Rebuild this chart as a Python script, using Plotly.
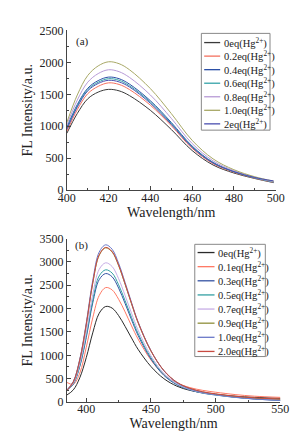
import plotly.graph_objects as go

# ---------------- Panel (a) data ----------------
wl_a = [400, 405, 410, 415, 420, 425, 430, 440, 450, 460, 470, 480, 490, 499]
a_00 = [890, 1200, 1430, 1535, 1578, 1555, 1480, 1250, 950, 620, 394, 268, 182, 118]
a_02 = [920, 1260, 1510, 1625, 1680, 1655, 1575, 1330, 1010, 655, 415, 280, 188, 122]
a_04 = [985, 1340, 1595, 1715, 1770, 1745, 1660, 1400, 1060, 690, 435, 290, 195, 128]
a_06 = [970, 1320, 1575, 1690, 1745, 1720, 1635, 1380, 1045, 680, 430, 288, 193, 126]
a_08 = [1020, 1410, 1690, 1825, 1885, 1855, 1765, 1490, 1125, 730, 460, 305, 200, 132]
a_10 = [1060, 1490, 1795, 1945, 2010, 1980, 1885, 1590, 1200, 780, 490, 320, 210, 140]
a_20 = [950, 1300, 1555, 1670, 1720, 1695, 1615, 1360, 1030, 670, 425, 290, 198, 145]
series_a = [a_00, a_02, a_04, a_06, a_08, a_10, a_20]
names_a = ["0eq", "0.2eq", "0.4eq", "0.6eq", "0.8eq", "1.0eq", "2eq"]
colors_a = ["#3a3a3a", "#f4715f", "#2b4fa6", "#35a3a8", "#b79ad6", "#a8a866", "#4a4fb0"]

# ---------------- Panel (b) data ----------------
wl_b = [385, 390, 395, 400, 405, 410, 415, 420, 425, 430, 435, 440, 450, 460, 470, 480, 490, 500, 515, 530, 550]
b_00 = [150, 260, 520, 950, 1480, 1900, 2045, 2010, 1850, 1620, 1370, 1130, 760, 500, 340, 250, 200, 165, 125, 100, 80]
b_01 = [420, 380, 620, 1170, 1800, 2280, 2450, 2400, 2200, 1930, 1630, 1350, 900, 590, 410, 310, 250, 210, 160, 125, 100]
b_03 = [250, 380, 760, 1380, 2120, 2620, 2750, 2680, 2440, 2110, 1760, 1430, 920, 570, 370, 260, 190, 150, 100, 65, 35]
b_05 = [250, 390, 780, 1420, 2180, 2700, 2830, 2760, 2510, 2170, 1810, 1470, 950, 590, 380, 265, 195, 155, 105, 70, 40]
b_07 = [250, 400, 820, 1500, 2300, 2840, 2980, 2900, 2640, 2280, 1900, 1540, 990, 610, 390, 270, 200, 160, 110, 75, 45]
b_09 = [250, 430, 900, 1650, 2540, 3140, 3300, 3210, 2920, 2520, 2100, 1700, 1090, 670, 420, 290, 215, 170, 120, 85, 60]
b_10 = [260, 440, 920, 1690, 2600, 3210, 3365, 3270, 2970, 2560, 2130, 1720, 1100, 670, 415, 280, 205, 160, 105, 65, 35]
b_20 = [250, 430, 900, 1660, 2550, 3150, 3310, 3220, 2930, 2530, 2110, 1710, 1095, 675, 425, 295, 220, 175, 125, 90, 65]
series_b = [b_00, b_01, b_03, b_05, b_07, b_09, b_10, b_20]
names_b = ["0eq", "0.1eq", "0.3eq", "0.5eq", "0.7eq", "0.9eq", "1.0eq", "2.0eq"]
colors_b = ["#2a2a2a", "#ff7a66", "#3553a3", "#33a0a3", "#c7aee6", "#8f8f3a", "#6a78c8", "#c84a40"]

W, H = 303, 432
FONT = "Liberation Serif"

fig = go.Figure()
for ys, n, c in zip(series_a, names_a, colors_a):
    fig.add_trace(go.Scatter(x=wl_a, y=ys, mode="lines", name=n + "(Hg<sup>2+</sup>)",
                             line=dict(color=c, width=1.0, shape="spline"),
                             xaxis="x", yaxis="y", showlegend=False))
for ys, n, c in zip(series_b, names_b, colors_b):
    fig.add_trace(go.Scatter(x=wl_b, y=ys, mode="lines", name=n + "(Hg<sup>2+</sup>)",
                             line=dict(color=c, width=1.0, shape="spline"),
                             xaxis="x2", yaxis="y2", showlegend=False))


def px(x):
    return x / W


def py(y):
    return 1 - y / H


base = dict(showline=True, linecolor="#444", linewidth=1, ticks="inside",
            ticklen=4, tickcolor="#444", showgrid=False, zeroline=False,
            tickfont=dict(family=FONT, size=12, color="#222"))

fig.update_layout(
    width=W, height=H,
    margin=dict(l=0, r=0, t=0, b=0),
    paper_bgcolor="white", plot_bgcolor="white",
    font=dict(family=FONT, color="#222"),
    xaxis=dict(domain=[px(53), px(275)], anchor="y", range=[400, 500], dtick=20,
               ticklabelstandoff=-4,
               minor=dict(ticks="inside", ticklen=2, tickcolor="#444", dtick=10),
               title=dict(text="Wavelength/nm", font=dict(family=FONT, size=14), standoff=0),
               **base),
    yaxis=dict(domain=[py(181), py(16)], anchor="x", range=[0, 2500], dtick=500,
               minor=dict(ticks="inside", ticklen=2, tickcolor="#444", dtick=250),
               title=dict(text="FL Intensity/a.u.", font=dict(family=FONT, size=14), standoff=3),
               **base),
    xaxis2=dict(domain=[px(53), px(280)], anchor="y2", range=[385, 550], tick0=400, dtick=50,
                ticklabelstandoff=-4,
                minor=dict(ticks="inside", ticklen=2, tickcolor="#444", dtick=25, tick0=400),
                title=dict(text="Wavelength/nm", font=dict(family=FONT, size=14), standoff=0),
                **base),
    yaxis2=dict(domain=[py(400), py(231)], anchor="x2", range=[0, 3500], dtick=500,
                minor=dict(ticks="inside", ticklen=2, tickcolor="#444", dtick=250),
                title=dict(text="FL Intensity/a.u.", font=dict(family=FONT, size=14), standoff=3),
                **base),
)

shapes = []
annotations = []


def add_legend(names, colors, box, row0, step, lx0, lx1, tx):
    x0, y0, x1, y1 = box
    shapes.append(dict(type="rect", xref="paper", yref="paper",
                       x0=px(x0), x1=px(x1), y0=py(y1), y1=py(y0),
                       line=dict(color="#888", width=1), fillcolor="white"))
    for i, (n, c) in enumerate(zip(names, colors)):
        yy = row0 + i * step
        shapes.append(dict(type="line", xref="paper", yref="paper",
                           x0=px(lx0), x1=px(lx1), y0=py(yy), y1=py(yy),
                           line=dict(color=c, width=1.3)))
        annotations.append(dict(xref="paper", yref="paper", x=px(tx), y=py(yy),
                                xanchor="left", yanchor="middle", showarrow=False,
                                text=n + "(Hg<sup>2+</sup>)",
                                font=dict(family=FONT, size=10.5, color="#222")))


add_legend(names_a, colors_a, (196, 19, 269, 119), 28.5, 14.0, 199, 216, 218)
add_legend(names_b, colors_b, (189, 237, 264, 353), 245.5, 14.6, 192, 210, 212)

annotations.append(dict(xref="paper", yref="paper", x=px(61), y=py(27), xanchor="left",
                        yanchor="middle", showarrow=False, text="(a)",
                        font=dict(family=FONT, size=11, color="#222")))
annotations.append(dict(xref="paper", yref="paper", x=px(60), y=py(238), xanchor="left",
                        yanchor="middle", showarrow=False, text="(b)",
                        font=dict(family=FONT, size=11, color="#222")))

fig.update_layout(shapes=shapes, annotations=annotations)
fig.write_html("out.html")
